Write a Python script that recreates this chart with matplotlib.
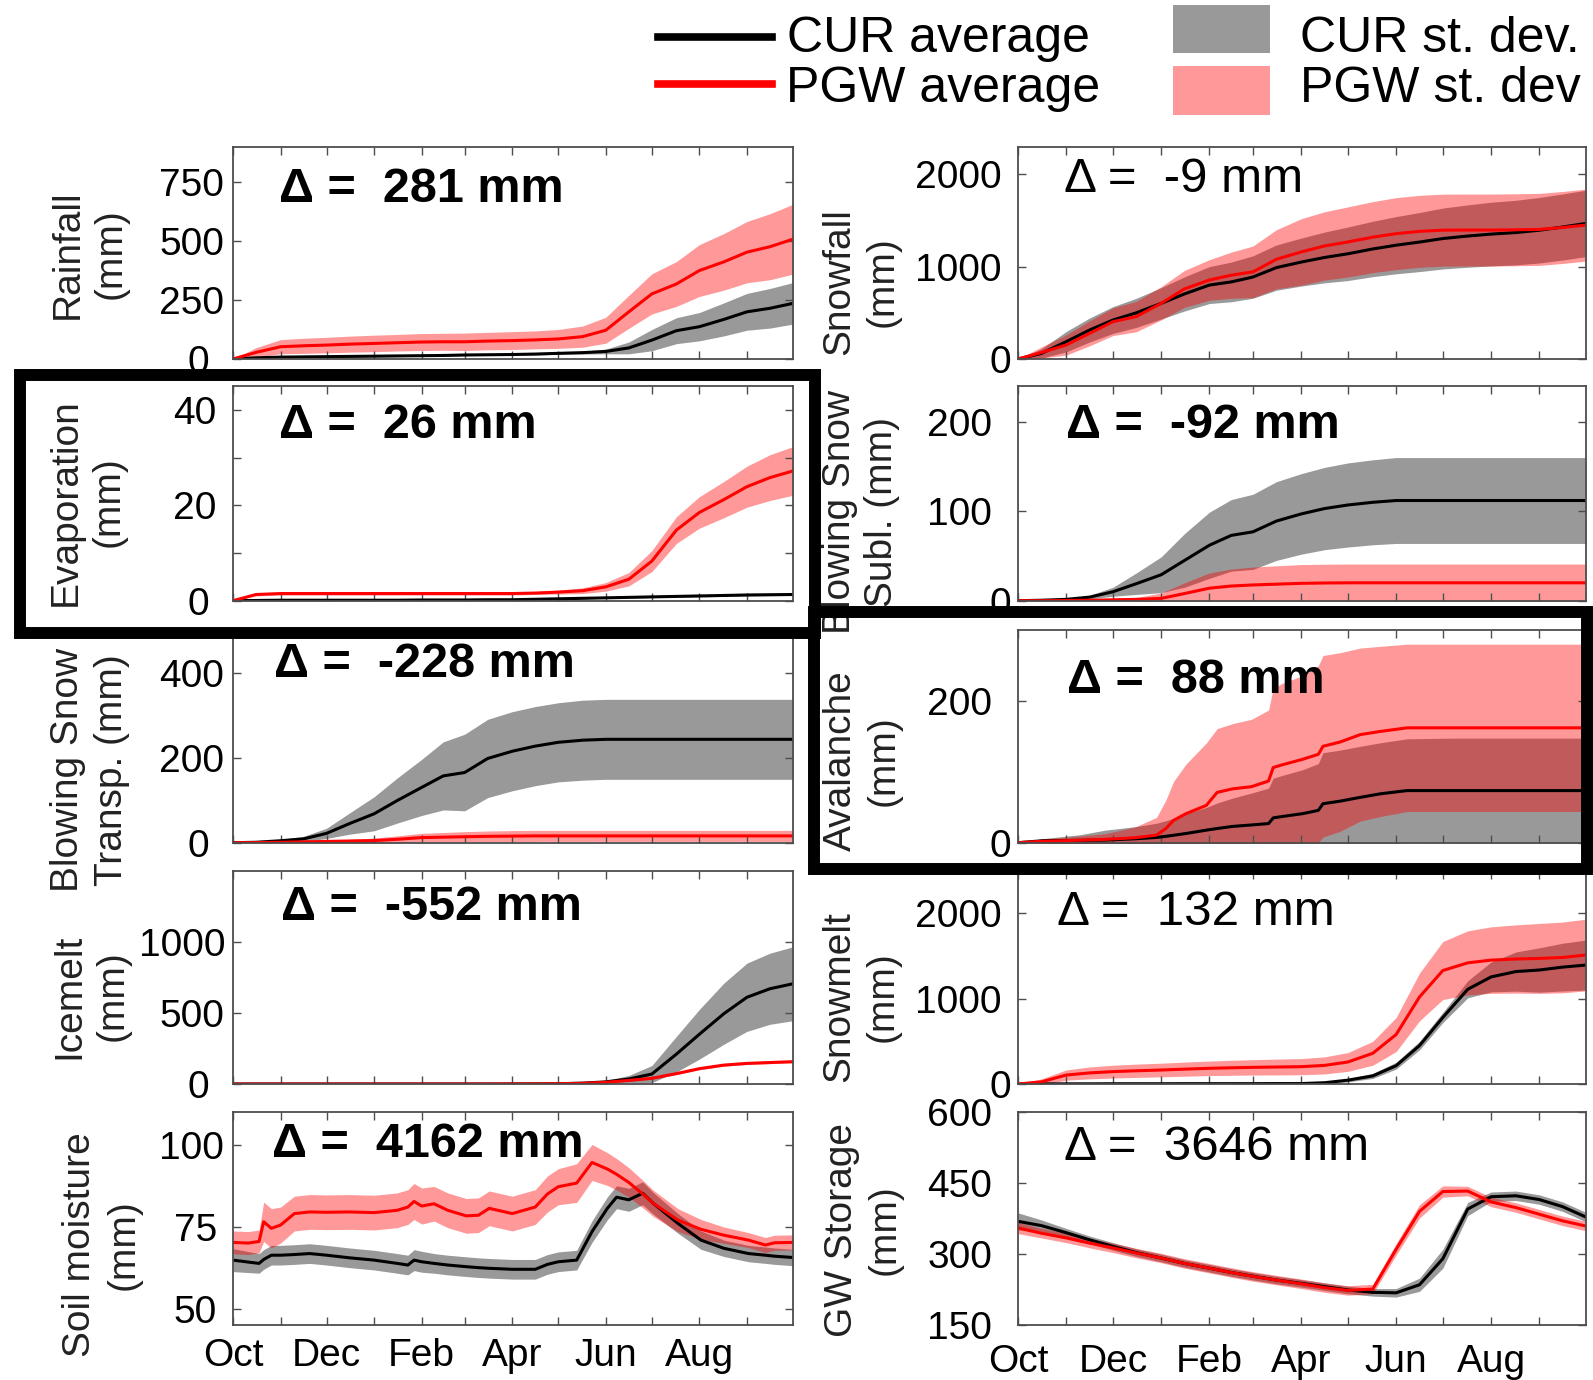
import numpy as np
import matplotlib
matplotlib.use("Agg")
import matplotlib.pyplot as plt
from matplotlib.lines import Line2D
from matplotlib.patches import Rectangle
from matplotlib.transforms import ScaledTranslation

plt.rcParams["font.family"] = ["Liberation Sans", "DejaVu Sans"]

# =============================================================================
# DATA  (day of water year, 0 = 1 Oct; values in mm)
# =============================================================================
day_grid = [0, 15, 31, 46, 61, 76, 92, 107, 123, 137, 151, 166, 182, 197, 212,
            228, 243, 258, 273, 289, 304, 320, 335, 350, 365]
month_days = [0, 31, 61, 92, 123, 151, 182, 212, 243, 273, 304, 335]
month_labels = ["Oct", "", "Dec", "", "Feb", "", "Apr", "", "Jun", "", "Aug", ""]

# Rainfall
rain_cur = [0, 5, 8, 9, 10, 11, 12, 13, 14, 15, 17, 18, 19, 21, 24, 27, 32, 47, 80, 120, 137, 168, 200, 215, 236]
rain_cur_sd = [0, 2, 3, 3, 3, 3, 3, 3, 3, 3, 3, 3, 3, 4, 4, 6, 10, 25, 45, 55, 60, 70, 78, 84, 88]
rain_pgw = [0, 28, 52, 56, 59, 63, 66, 69, 72, 73, 73, 76, 78, 81, 85, 95, 122, 200, 276, 318, 375, 412, 453, 476, 508]
rain_pgw_sd = [0, 20, 30, 32, 33, 34, 35, 35, 36, 36, 37, 37, 38, 38, 40, 45, 55, 70, 85, 95, 110, 120, 130, 140, 148]

# Evaporation
evap_cur = [0, 0.05, 0.1, 0.1, 0.1, 0.1, 0.1, 0.1, 0.15, 0.15, 0.15, 0.2, 0.2, 0.3, 0.4, 0.5, 0.6, 0.7, 0.8, 0.9, 1.0, 1.1, 1.2, 1.25, 1.3]
evap_cur_sd = [0, 0.05, 0.1, 0.1, 0.1, 0.1, 0.1, 0.1, 0.1, 0.1, 0.1, 0.1, 0.1, 0.1, 0.1, 0.1, 0.1, 0.15, 0.15, 0.15, 0.2, 0.2, 0.2, 0.2, 0.2]
evap_pgw = [0, 1.3, 1.5, 1.5, 1.5, 1.5, 1.5, 1.5, 1.5, 1.5, 1.5, 1.5, 1.5, 1.6, 1.8, 2.1, 2.9, 4.5, 8.3, 14.8, 18.5, 21.2, 23.9, 25.8, 27.2]
evap_pgw_sd = [0, 0.3, 0.3, 0.3, 0.3, 0.3, 0.3, 0.3, 0.3, 0.3, 0.3, 0.3, 0.3, 0.3, 0.4, 0.6, 0.9, 1.4, 2.2, 2.8, 3.3, 3.8, 4.3, 4.8, 5.1]

# Blowing snow transport
bst_cur = [0, 1, 4.6, 9, 22, 45, 68, 99, 130, 157, 165, 198, 215, 227, 236, 241, 243, 243, 243, 243, 243, 243, 243, 243, 243]
bst_cur_sd = [0, 1, 3, 6, 12, 25, 40, 53, 66, 80, 90, 92, 93, 93, 93, 94, 94, 94, 94, 94, 94, 94, 94, 94, 94]
bst_pgw = [0, 0.3, 1, 2, 3, 4, 5, 8, 12, 13, 14, 15, 15.5, 16, 16, 16, 16, 16, 16, 16, 16, 16, 16, 16, 16]
bst_pgw_sd = [0, 0.5, 1, 2, 3, 4, 6, 8, 10, 11, 12, 12.5, 13, 13, 13, 13, 13, 13, 13, 13, 13, 13, 13, 13, 13]

# Icemelt
ice_cur = [0, 0, 0, 0, 0, 0, 0, 0, 0, 0, 0, 0, 0.5, 1, 2, 6, 15, 35, 70, 210, 350, 495, 610, 670, 705]
ice_cur_sd = [0, 0, 0, 0, 0, 0, 0, 0, 0, 0, 0, 0, 0.5, 1, 1, 4, 10, 25, 60, 125, 175, 215, 240, 250, 260]
ice_pgw = [0, 0, 0, 0, 0, 0, 0, 0, 0, 0, 0, 0, 0.5, 1, 2, 5, 12, 25, 40, 73, 108, 133, 145, 151, 157]
ice_pgw_sd = [0, 0, 0, 0, 0, 0, 0, 0, 0, 0, 0, 0, 0.5, 1, 1, 2, 3, 5, 6, 7, 8, 8, 8, 8, 8]

# Soil moisture (own day axis, more detail)
sm_day = [0, 10, 17, 20, 25, 31, 40, 50, 61, 76, 92, 107, 114, 118, 123, 131, 140, 152, 160,
          167, 182, 197, 205, 212, 224, 234, 244, 250, 258, 267, 274, 290, 305, 320, 336, 347, 353, 365]
sm_cur = [64.8, 64.2, 63.8, 65.0, 66.3, 66.3, 66.5, 66.8, 66.3, 65.5, 64.8, 63.8, 63.3, 64.8, 64.3, 63.8, 63.3, 62.8, 62.5,
          62.3, 62.0, 62.0, 63.5, 64.3, 64.8, 73.5, 80.6, 84.0, 83.2, 85.2, 82.1, 76.0, 70.9, 68.4, 66.8, 66.3, 66.0, 65.6]
sm_cur_sd = [3.5, 3.2, 3.0, 3.0, 3.0, 3.0, 3.0, 3.0, 3.0, 3.0, 3.0, 3.0, 3.0, 3.2, 3.2, 3.0, 3.0, 3.0, 3.0,
             3.0, 3.0, 3.0, 3.0, 3.0, 3.0, 3.3, 3.5, 3.5, 3.5, 3.5, 3.3, 3.0, 2.8, 2.5, 2.5, 2.5, 2.5, 2.5]
sm_pgw = [70.2, 70.0, 70.5, 76.5, 74.5, 75.5, 79.0, 79.5, 79.4, 79.5, 79.3, 80.0, 81.0, 82.7, 81.3, 82.0, 80.0, 78.3, 78.5,
          80.6, 79.0, 81.0, 85.0, 87.2, 88.3, 94.6, 92.6, 91.0, 88.5, 85.0, 82.1, 77.0, 74.2, 72.4, 70.9, 69.4, 70.1, 70.2]
sm_pgw_sd = [3.5, 3.5, 3.5, 6.0, 6.0, 5.5, 5.3, 5.3, 5.3, 5.3, 5.3, 5.3, 5.3, 5.5, 5.5, 5.3, 5.3, 5.3, 5.3,
             5.3, 5.3, 5.3, 5.5, 5.5, 5.9, 5.5, 5.0, 4.8, 4.5, 4.2, 4.0, 3.5, 3.0, 2.5, 2.3, 2.3, 2.3, 2.3]

# Snowfall
sf_cur = [0, 60, 188, 314, 422, 500, 603, 705, 801, 835, 888, 990, 1050, 1100, 1140, 1192, 1233, 1267, 1305, 1332, 1353, 1370, 1395, 1430, 1469]
sf_cur_sd = [0, 50, 110, 130, 145, 158, 170, 185, 200, 215, 230, 245, 260, 275, 290, 300, 310, 320, 330, 338, 345, 350, 355, 358, 360]
sf_pgw = [0, 70, 152, 278, 404, 460, 603, 760, 856, 908, 944, 1080, 1160, 1225, 1268, 1320, 1358, 1383, 1396, 1397, 1397, 1400, 1404, 1425, 1451]
sf_pgw_sd = [0, 60, 110, 135, 150, 165, 180, 200, 220, 250, 280, 320, 360, 370, 380, 385, 390, 390, 390, 390, 390, 390, 390, 390, 390]

# Blowing snow sublimation
bss_cur = [0, 0.5, 1.5, 4, 10, 19, 29, 45, 62, 73, 77, 89, 97, 103, 107, 110, 112, 112, 112, 112, 112, 112, 112, 112, 112]
bss_cur_sd = [0, 0.5, 1, 2, 5, 12, 20, 30, 37, 40, 42, 44, 45, 46, 47, 47.5, 48, 48, 48, 48, 48, 48, 48, 48, 48]
bss_pgw = [0, 0, 0.2, 0.5, 1, 1.5, 2.6, 8, 14, 16.4, 17.6, 18.5, 19.4, 19.8, 20, 20, 20, 20, 20, 20, 20, 20, 20, 20, 20]
bss_pgw_sd = [0, 0, 0.2, 0.5, 1, 2, 6, 12, 17, 19, 20, 20.5, 21, 21, 21, 21, 21, 21, 21, 21, 21, 21, 21, 21, 21]

# Avalanche (own day axis, stepwise)
av_day = [0, 16, 40, 56, 75, 89, 95, 100, 108, 121, 128, 138, 150, 161, 164, 170, 183, 193, 196, 207, 220, 233, 250, 280, 320, 365]
av_cur = [0, 2.8, 3.3, 3.7, 5.5, 7.4, 9, 10.5, 13, 17.7, 20, 23, 25, 27, 35, 37, 41, 45.6, 55, 58.6, 64, 69, 73.5, 73.5, 73.5, 73.5]
av_cur_sd = [0, 3, 8, 14, 17, 20, 22, 24, 28, 32, 36, 40, 45, 50, 56, 58, 62, 66, 72, 72, 72, 72, 73, 74, 74, 74]
av_pgw = [0, 2, 3.5, 4.7, 7, 10.7, 20, 31.6, 41, 52.6, 71, 76, 79, 87, 106, 110, 117.7, 124.7, 136, 142, 152.5, 157, 162, 162, 162, 162]
av_pgw_sd = [0, 3, 6, 8, 15, 25, 40, 55, 70, 88, 90, 92, 95, 100, 112, 115, 118, 125, 128, 126, 122, 120, 118, 118, 118, 118]

# Snowmelt
smelt_cur = [0, 1, 2, 2, 3, 3, 3, 4, 4, 4, 4, 5, 5, 15, 45, 95, 215, 450, 780, 1110, 1255, 1318, 1336, 1370, 1394]
smelt_cur_sd = [0, 1, 1, 1, 1, 1, 2, 2, 2, 2, 3, 3, 4, 10, 20, 30, 40, 50, 60, 100, 175, 230, 260, 280, 293]
smelt_pgw = [0, 25, 105, 130, 145, 155, 164, 174, 184, 190, 195, 199, 203, 218, 258, 360, 580, 1020, 1330, 1420, 1452, 1465, 1472, 1483, 1512]
smelt_pgw_sd = [0, 35, 60, 70, 75, 78, 80, 83, 85, 88, 90, 93, 95, 100, 110, 140, 200, 280, 340, 375, 390, 400, 410, 415, 420]

# Groundwater storage
gw_cur = [369, 360, 345, 330, 316, 303, 291.5, 280, 270, 261, 253, 245, 238, 231, 224, 219, 218, 235, 290, 395, 421, 423, 415, 400, 378]
gw_cur_sd = [18, 12, 9, 8, 8, 8, 8, 8, 8, 8, 8, 8, 8, 8, 8, 8, 9, 14, 20, 14, 10, 10, 10, 10, 10]
gw_pgw = [355, 344, 334, 323, 313, 302, 291.5, 280, 270, 261, 252.6, 245, 237, 229, 223, 226, 310, 390, 432, 433, 410, 398, 384, 370, 359]
gw_pgw_sd = [12, 10, 10, 10, 10, 10, 10, 10, 10, 10, 10, 10, 10, 10, 10, 10, 12, 14, 12, 10, 10, 10, 10, 10, 10]

deltas = ["281", "26", "-228", "-552", "4162", "-9", "-92", "88", "132", "3646"]

# =============================================================================
# LAYOUT (pixel based, figure is 1593 x 1380)
# =============================================================================
W, H = 1593, 1380
COLS = [(233, 793), (1018, 1586)]
ROWS = [(146.7, 359), (386, 600.7), (630, 842.7), (870.7, 1084), (1112, 1325)]
EDGE = "#4d4d4d"


def px_rect(x0, y0, x1, y1):
    return [x0 / W, 1 - y1 / H, (x1 - x0) / W, (y1 - y0) / H]


def label_shift(col, text):
    # the source figure does not right-align its y tick labels exactly
    n = len(text)
    if col == 0:
        return -7.2 * (3 - n) if n <= 3 else 2
    return {1: 10, 2: 0, 3: -9, 4: 0}.get(n, 0)


panels = [
    dict(col=0, row=0, day=day_grid, cur=rain_cur, cur_sd=rain_cur_sd, pgw=rain_pgw, pgw_sd=rain_pgw_sd,
         label="Rainfall\n(mm)", lab=(89, 254), txt=(279, 202), bold=True, delta=deltas[0],
         ylim=(0, 900), yt=[0, 250, 500, 750], ytl=None),
    dict(col=0, row=1, day=day_grid, cur=evap_cur, cur_sd=evap_cur_sd, pgw=evap_pgw, pgw_sd=evap_pgw_sd,
         label="Evaporation\n(mm)", lab=(87, 502), txt=(279, 438), bold=True, delta=deltas[1],
         ylim=(0, 45), yt=[0, 10, 20, 30, 40], ytl=["0", "", "20", "", "40"]),
    dict(col=0, row=2, day=day_grid, cur=bst_cur, cur_sd=bst_cur_sd, pgw=bst_pgw, pgw_sd=bst_pgw_sd,
         label="Blowing Snow\nTransp. (mm)", lab=(90, 770), txt=(274, 677), bold=True, delta=deltas[2],
         ylim=(0, 500), yt=[0, 200, 400], ytl=None),
    dict(col=0, row=3, day=day_grid, cur=ice_cur, cur_sd=ice_cur_sd, pgw=ice_pgw, pgw_sd=ice_pgw_sd,
         label="Icemelt\n(mm)", lab=(91, 996), txt=(281, 920), bold=True, delta=deltas[3],
         ylim=(0, 1500), yt=[0, 500, 1000], ytl=None),
    dict(col=0, row=4, day=sm_day, cur=sm_cur, cur_sd=sm_cur_sd, pgw=sm_pgw, pgw_sd=sm_pgw_sd,
         label="Soil moisture\n(mm)", lab=(102, 1245), txt=(272, 1157), bold=True, delta=deltas[4],
         ylim=(45, 110), yt=[50, 75, 100], ytl=None),
    dict(col=1, row=0, day=day_grid, cur=sf_cur, cur_sd=sf_cur_sd, pgw=sf_pgw, pgw_sd=sf_pgw_sd,
         label="Snowfall\n(mm)", lab=(861, 282), txt=(1064, 192), bold=False, delta=deltas[5],
         ylim=(0, 2300), yt=[0, 1000, 2000], ytl=None),
    dict(col=1, row=1, day=day_grid, cur=bss_cur, cur_sd=bss_cur_sd, pgw=bss_pgw, pgw_sd=bss_pgw_sd,
         label="Blowing Snow\nSubl. (mm)", lab=(861, 512), txt=(1066, 438), bold=True, delta=deltas[6],
         ylim=(0, 240), yt=[0, 100, 200], ytl=None),
    dict(col=1, row=2, day=av_day, cur=av_cur, cur_sd=av_cur_sd, pgw=av_pgw, pgw_sd=av_pgw_sd,
         label="Avalanche\n(mm)", lab=(862, 761), txt=(1067, 693), bold=True, delta=deltas[7],
         ylim=(0, 300), yt=[0, 200], ytl=None),
    dict(col=1, row=3, day=day_grid, cur=smelt_cur, cur_sd=smelt_cur_sd, pgw=smelt_pgw, pgw_sd=smelt_pgw_sd,
         label="Snowmelt\n(mm)", lab=(861, 997), txt=(1057, 925), bold=False, delta=deltas[8],
         ylim=(0, 2500), yt=[0, 1000, 2000], ytl=None),
    dict(col=1, row=4, day=day_grid, cur=gw_cur, cur_sd=gw_cur_sd, pgw=gw_pgw, pgw_sd=gw_pgw_sd,
         label="GW Storage\n(mm)", lab=(863, 1230), txt=(1064, 1160), bold=False, delta=deltas[9],
         ylim=(150, 600), yt=[150, 300, 450, 600], ytl=None),
]

fig = plt.figure(figsize=(W / 100, H / 100), dpi=100)

for p in panels:
    x0, x1 = COLS[p["col"]]
    y0, y1 = ROWS[p["row"]]
    ax = fig.add_axes(px_rect(x0, y0, x1, y1))
    d = np.array(p["day"])
    for mean, sd, colour in [(p["cur"], p["cur_sd"], "k"), (p["pgw"], p["pgw_sd"], "#ff0000")]:
        m = np.array(mean, dtype=float)
        s = np.array(sd, dtype=float)
        ax.fill_between(d, m - s, m + s, color=colour, alpha=0.4, lw=0)
        ax.plot(d, m, color=colour, lw=2.2)

    ax.set_xlim(0, 365)
    ax.set_ylim(*p["ylim"])
    ax.set_xticks(month_days)
    ax.set_yticks(p["yt"])
    ytl = p["ytl"] if p["ytl"] is not None else [str(v) for v in p["yt"]]
    ax.set_yticklabels(ytl)
    if p["row"] == 4:
        ax.set_xticklabels(month_labels)
    ax.tick_params(direction="in", top=True, right=True, length=6, width=1, color=EDGE,
                   labelsize=28, labelbottom=(p["row"] == 4))
    ax.tick_params(axis="y", pad=6.5 if p["col"] == 0 else 12)
    ax.tick_params(axis="x", pad=9 if p["col"] == 0 else 14)
    for lbl, txt in zip(ax.get_yticklabels(), ytl):
        dx = label_shift(p["col"], txt)
        if dx:
            lbl.set_transform(lbl.get_transform() + ScaledTranslation(dx / 100, 0, fig.dpi_scale_trans))
    for spine in ax.spines.values():
        spine.set_color(EDGE)
        spine.set_linewidth(1.3)

# overlay in pixel coordinates for labels, annotations, legend and highlight boxes
ov = fig.add_axes([0, 0, 1, 1], zorder=10)
ov.set_xlim(0, W)
ov.set_ylim(H, 0)
ov.axis("off")
ov.patch.set_alpha(0)

for p in panels:
    ov.text(*p["lab"], p["label"], rotation=90, ha="center", va="center",
            multialignment="center", fontsize=28, linespacing=1.25, color="#222222")
    ov.text(*p["txt"], f"\u0394 =  {p['delta']} mm", ha="left", va="baseline",
            fontsize=35 if p["bold"] else 35.5, fontweight="bold" if p["bold"] else "normal")

# highlight boxes (Evaporation, Avalanche)
for (bx0, by0, bx1, by1) in [(20, 375, 814.5, 632.5), (814, 612, 1587, 869)]:
    ov.add_patch(Rectangle((bx0, by0), bx1 - bx0, by1 - by0, fill=False, ec="k",
                           lw=8.6, joinstyle="miter", zorder=5))

# legend
ov.add_line(Line2D([658, 772], [37, 37], color="k", lw=5.5))
ov.add_line(Line2D([658, 772], [84, 84], color="#ff0000", lw=5.5))
ov.text(787, 52, "CUR average", fontsize=36, va="baseline")
ov.text(786, 102, "PGW average", fontsize=36, va="baseline")
ov.add_patch(Rectangle((1173, 5), 97, 48, fc="k", alpha=0.4, lw=0))
ov.add_patch(Rectangle((1173, 66), 97, 49, fc="#ff0000", alpha=0.4, lw=0))
ov.text(1300, 52, "CUR st. dev.", fontsize=36, va="baseline")
ov.text(1300, 102, "PGW st. dev", fontsize=36, va="baseline")

fig.savefig("out.png", dpi=100, facecolor="white")
